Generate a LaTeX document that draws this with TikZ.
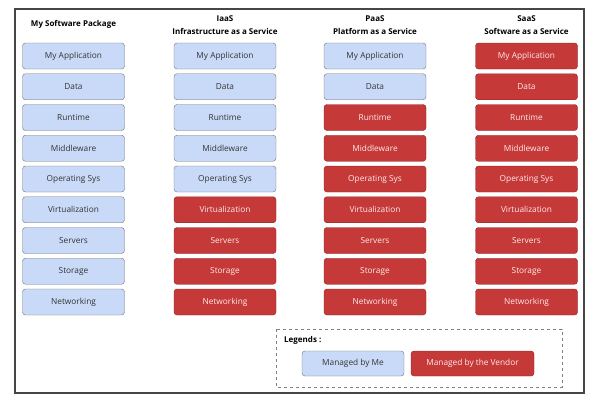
\documentclass[tikz,border=0pt]{standalone}
\usepackage{fontspec}
\setmainfont{Open Sans}
\definecolor{meblue}{RGB}{201,218,248}
\definecolor{meline}{RGB}{112,112,118}
\definecolor{vendorred}{RGB}{197,57,57}
\definecolor{vendorline}{RGB}{140,36,36}
\definecolor{frame}{RGB}{70,70,70}
\begin{document}
\begin{tikzpicture}[x=1pt,y=-1pt]
\tikzstyle{every node}+=[inner sep=0pt]
\tikzstyle{cell}=[rounded corners=3pt, minimum width=102pt, minimum height=26pt, font=\fontsize{8.3}{10}\selectfont]
\tikzstyle{me}=[cell, draw=meline, fill=meblue, text=black!80]
\tikzstyle{vendor}=[cell, draw=vendorline, fill=vendorred, text=white!92!red]
\tikzstyle{head}=[align=center, font=\fontsize{8}{13}\selectfont\bfseries]
\useasboundingbox (0,0) rectangle (597,402);
\draw [frame, line width=1.5pt] (15,9) rectangle (584,393);
% column titles
\node [head] (sw-head) at (73.5,24) {My Software Package};
\node [head] (iaas-head) at (225,25.5) {IaaS\\Infrastructure as a Service};
\node [head] (paas-head) at (375,25.5) {PaaS\\Platform as a Service};
\node [head] (saas-head) at (526.5,25.5) {SaaS\\Software as a Service};
% stacks
\foreach \col/\x/\k in {sw/73.5/9, iaas/225/5, paas/375/2, saas/526.5/0} {
  \foreach \t [count=\i] in {My Application,Data,Runtime,Middleware,Operating Sys,Virtualization,Servers,Storage,Networking} {
    \ifnum\i>\k \tikzset{cur/.style=vendor}\else\tikzset{cur/.style=me}\fi
    \node [cur] (\col-\i) at (\x,{56+30.75*(\i-1)}) {\t};
  }
}
% legend
\draw [black!50, dashed] (276,329) rectangle (562,387);
\node [anchor=west, font=\fontsize{8}{10}\selectfont\bfseries] (legend) at (284,340) {Legends :};
\node [me, minimum height=25pt] (legend-me) at (353,363.5) {Managed by Me};
\node [vendor, minimum width=123pt, minimum height=25pt] (legend-vendor) at (472.5,363.5) {Managed by the Vendor};
\end{tikzpicture}
\end{document}
